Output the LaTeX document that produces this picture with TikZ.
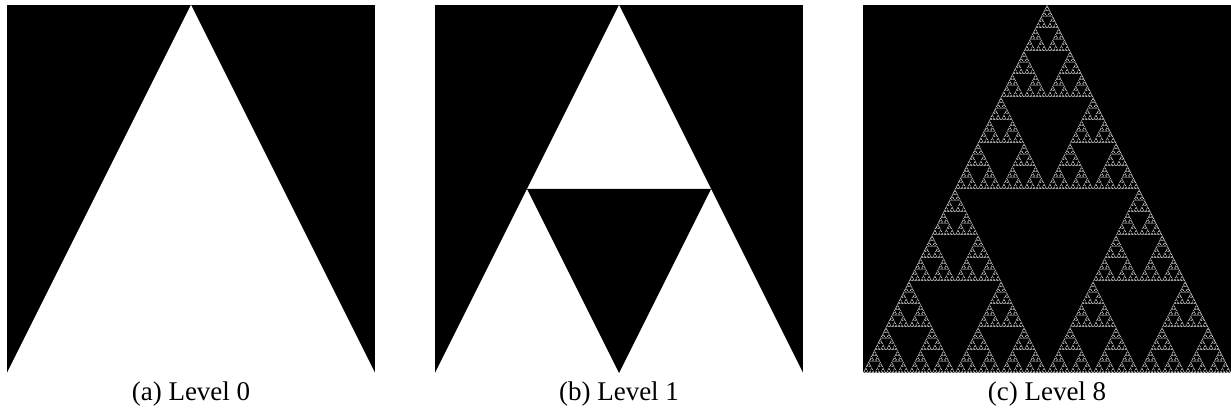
\documentclass[tikz,border=0pt]{standalone}
\usepackage{fontspec}
\setmainfont{Liberation Serif}
\newcommand\sierp[5]{% level, x, y (base-left), w, h
  \ifnum#1>0\relax
  \begingroup
  \pgfmathsetmacro\sxa{#2+#4/4}%
  \pgfmathsetmacro\sxb{#2+#4/2}%
  \pgfmathsetmacro\sxc{#2+3*#4/4}%
  \pgfmathsetmacro\sym{#3+#5/2}%
  \pgfmathsetmacro\sw{#4/2}%
  \pgfmathsetmacro\sh{#5/2}%
  \pgfmathtruncatemacro\sl{#1-1}%
  \fill[hole] (\sxa,\sym) -- (\sxc,\sym) -- (\sxb,#3) -- cycle;
  \edef\next{\noexpand\sierp{\sl}{#2}{#3}{\sw}{\sh}\noexpand\sierp{\sl}{\sxb}{#3}{\sw}{\sh}\noexpand\sierp{\sl}{\sxa}{\sym}{\sw}{\sh}}%
  \next
  \endgroup
  \fi}
\begin{document}
\begin{tikzpicture}[x=1pt,y=1pt,
  panel/.style={fill=black},
  tri/.style={fill=white},
  hole/.style={fill=black},
  captext/.style={anchor=base,font=\fontsize{27}{31}\selectfont,inner sep=0pt}]
\useasboundingbox (0,0) rectangle (1231,412);
% panel (a)
\fill[panel] (7,39) rectangle (375,407);
\fill[tri] (7,39) -- (375,39) -- (191,407) -- cycle;
\node[captext] (capa) at (191,11) {(a) Level 0};
% panel (b)
\fill[panel] (435,39) rectangle (803,407);
\fill[tri] (435,39) -- (803,39) -- (619,407) -- cycle;
\sierp{1}{435}{39}{368}{368}
\node[captext] (capb) at (619,11) {(b) Level 1};
% panel (c)
\fill[panel] (863,39) rectangle (1231,407);
\fill[tri] (863,39) -- (1231,39) -- (1047,407) -- cycle;
\sierp{8}{863}{39}{368}{368}
\node[captext] (capc) at (1047,11) {(c) Level 8};
\end{tikzpicture}
\end{document}
